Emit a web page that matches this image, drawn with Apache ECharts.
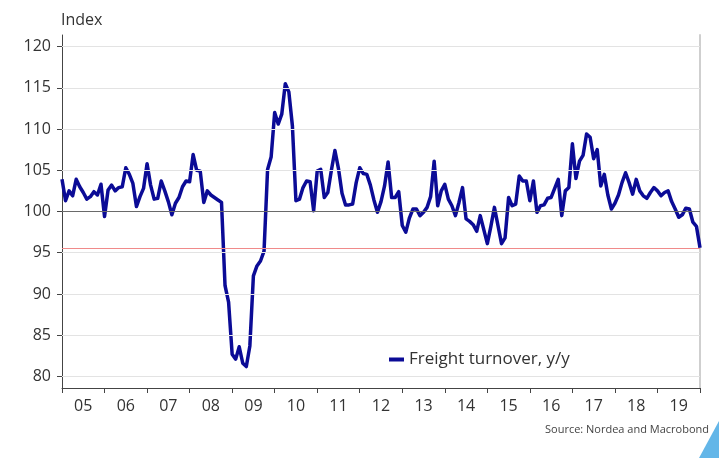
<!DOCTYPE html>
<html>
<head>
<meta charset="utf-8">
<script src="https://cdn.jsdelivr.net/npm/echarts@6/dist/echarts.min.js"></script>
<style>
  html, body { margin: 0; padding: 0; background: #fff; }
  #main { width: 719px; height: 458px; }
</style>
</head>
<body>
<div id="main"></div>
<script>
// NOTE - Data (monthly, Jan 2005 - Jan 2020)

const seriesName = 'Freight turnover, y/y';

const freight = [
  103.9, 101.3, 102.5, 101.9, 103.9, 103.0, 102.3, 101.5, 101.8, 102.4, 102.0, 103.3,
  99.4, 102.6, 103.2, 102.5, 102.9, 103.0, 105.3, 104.5, 103.4, 100.6, 101.8, 102.8,
  105.8, 103.2, 101.5, 101.6, 103.7, 102.5, 101.2, 99.6, 101.0, 101.7, 103.0, 103.7,
  103.6, 106.9, 105.0, 104.9, 101.1, 102.5, 102.0, 101.7, 101.4, 101.1, 91.0, 89.0,
  82.7, 82.1, 83.6, 81.6, 81.2, 83.7, 92.2, 93.4, 94.0, 95.2, 105.1, 106.6,
  112.0, 110.6, 111.8, 115.5, 114.5, 110.4, 101.3, 101.5, 102.9, 103.7, 103.6, 100.1,
  104.9, 105.1, 101.7, 102.3, 105.0, 107.4, 105.2, 102.2, 100.8, 100.8, 100.9, 103.5,
  105.3, 104.6, 104.5, 103.2, 101.4, 99.9, 101.2, 103.1, 106.0, 101.7, 101.7, 102.4,
  98.3, 97.5, 99.2, 100.3, 100.3, 99.5, 99.9, 100.5, 101.8, 106.1, 100.7, 102.5,
  103.3, 101.5, 100.7, 99.5, 101.1, 102.9, 99.1, 98.8, 98.4, 97.6, 99.5, 97.8,
  96.1, 98.2, 100.5, 98.3, 96.1, 96.8, 101.7, 100.7, 100.9, 104.3, 103.7, 103.7,
  101.3, 103.7, 99.9, 100.7, 100.8, 101.6, 101.7, 102.8, 103.9, 99.5, 102.5, 102.9,
  108.2, 104.0, 106.1, 106.8, 109.4, 109.0, 106.4, 107.5, 103.1, 104.5, 102.0, 100.3,
  101.0, 102.0, 103.5, 104.7, 103.5, 102.1, 103.9, 102.5, 101.9, 101.6, 102.3, 102.9,
  102.5, 101.9, 102.3, 102.5, 101.2, 100.3, 99.3, 99.6, 100.4, 100.3, 98.7, 98.2,
  95.6
];

const startYear = 2005;
const months = freight.map((v, i) =>
  (startYear + Math.floor(i / 12)) + '-' + String(i % 12 + 1).padStart(2, '0'));

const yTicks = [80, 85, 90, 95, 100, 105, 110, 115, 120];
const baseLevel = 100;
const lastLevel = freight[freight.length - 1];

// NOTE - Chart

var myChart = echarts.init(document.getElementById('main'));

var font = '"Open Sans", "Noto Sans", sans-serif';

// horizontal grid lines as marker lines (100 drawn darker)
var gridLines = yTicks.map(t => ({
  yAxis: t,
  lineStyle: { color: t === baseLevel ? '#6a6a6a' : '#e3e3e3', width: 1, type: 'solid' }
}));
gridLines.push({ yAxis: lastLevel, lineStyle: { color: '#f08a8a', width: 1, type: 'solid' } });

var option = {
  animation: false,
  textStyle: { fontFamily: font },
  grid: { left: 62, right: 19, top: 35, bottom: 70 },
  legend: {
    data: [seriesName],
    left: 384,
    top: 346,
    icon: 'rect',
    itemWidth: 15,
    itemHeight: 4,
    itemGap: 4,
    textStyle: { fontSize: 17, color: '#333', fontFamily: font }
  },
  xAxis: {
    type: 'category',
    data: months,
    boundaryGap: false,
    axisLine: { lineStyle: { color: '#444', width: 1 } },
    axisTick: {
      interval: (i) => i % 12 === 0,
      length: 5,
      lineStyle: { color: '#444' }
    },
    axisLabel: {
      interval: (i) => i % 12 === 6,
      formatter: (v) => v.slice(2, 4),
      margin: 10,
      fontSize: 16,
      color: '#333'
    },
    splitLine: { show: false }
  },
  yAxis: [
    {
      type: 'value',
      min: 78.6,
      max: 121.4,
      axisLine: { show: true, lineStyle: { color: '#444', width: 1 } },
      axisTick: { show: true, length: 5, customValues: yTicks, lineStyle: { color: '#444' } },
      axisLabel: {
        customValues: yTicks,
        margin: 11,
        fontSize: 16,
        color: '#333'
      },
      splitLine: { show: false }
    },
    {
      type: 'value',
      position: 'right',
      min: 78.6,
      max: 121.4,
      axisLine: { show: true, lineStyle: { color: '#cfcfcf', width: 2 } },
      axisTick: { show: false },
      axisLabel: { show: false },
      splitLine: { show: false }
    }
  ],
  series: [
    {
      name: 'grid',
      type: 'line',
      data: [],
      z: 1,
      markLine: {
        silent: true,
        symbol: ['none', 'none'],
        label: { show: false },
        data: gridLines
      }
    },
    {
      name: seriesName,
      type: 'line',
      data: freight,
      showSymbol: false,
      symbol: 'none',
      z: 3,
      itemStyle: { color: '#0b0b96' },
      lineStyle: { color: '#0b0b96', width: 3.5, join: 'round' }
    }
  ],
  graphic: [
    {
      type: 'text',
      left: 61,
      top: 12,
      style: { text: 'Index', fontSize: 16, fill: '#333', fontFamily: font }
    },
    {
      type: 'text',
      right: 10,
      top: 424,
      style: { text: 'Source: Nordea and Macrobond', fontSize: 11, fill: '#444', fontFamily: font }
    },
    {
      type: 'polygon',
      shape: { points: [[699, 458], [719, 421], [719, 458]] },
      style: { fill: '#63b6e8' }
    }
  ]
};

myChart.setOption(option);
</script>
</body>
</html>
